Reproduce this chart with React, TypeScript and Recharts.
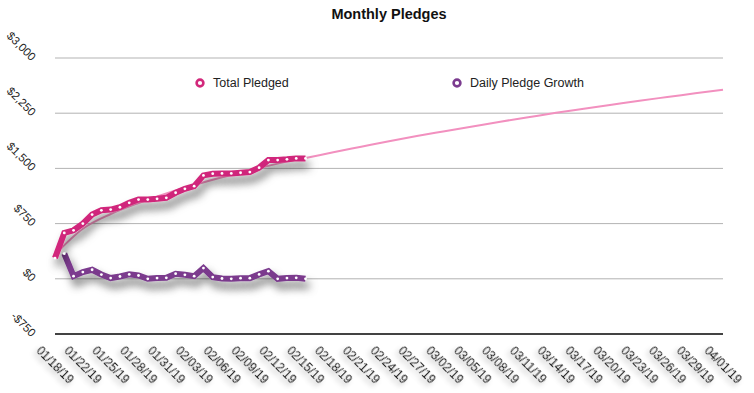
import React from 'react';
import { LineChart, Line, XAxis, YAxis, CartesianGrid } from 'recharts';

// one category per plotted day, label shown on every third one
const dates = [
  '01/18/19', '01/20/19', '01/21/19', '01/22/19', '01/23/19', '01/24/19', '01/25/19', '01/26/19',
  '01/27/19', '01/28/19', '01/29/19', '01/30/19', '01/31/19', '02/01/19', '02/02/19', '02/03/19',
  '02/04/19', '02/05/19', '02/06/19', '02/07/19', '02/08/19', '02/09/19', '02/10/19', '02/11/19',
  '02/12/19', '02/13/19', '02/14/19', '02/15/19', '02/16/19', '02/17/19', '02/18/19', '02/19/19',
  '02/20/19', '02/21/19', '02/22/19', '02/23/19', '02/24/19', '02/25/19', '02/26/19', '02/27/19',
  '02/28/19', '03/01/19', '03/02/19', '03/03/19', '03/04/19', '03/05/19', '03/06/19', '03/07/19',
  '03/08/19', '03/09/19', '03/10/19', '03/11/19', '03/12/19', '03/13/19', '03/14/19', '03/15/19',
  '03/16/19', '03/17/19', '03/18/19', '03/19/19', '03/20/19', '03/21/19', '03/22/19', '03/23/19',
  '03/24/19', '03/25/19', '03/26/19', '03/27/19', '03/28/19', '03/29/19', '03/30/19', '03/31/19',
  '04/01/19',
];

const totalPledged = [
  282, 623, 659, 750, 873, 931, 941, 972, 1032, 1077, 1077, 1087, 1100, 1169,
  1223, 1259, 1405, 1428, 1432, 1432, 1441, 1450, 1510, 1613, 1613, 1623, 1636, 1636,
];

const dailyGrowth = [
  null, 341, 36, 91, 123, 58, 10, 31, 60, 45, 0, 10, 13, 69,
  54, 36, 146, 23, 4, 0, 9, 9, 60, 103, 0, 10, 13, 0,
];

// trend line for Total Pledged, read at every labelled date
const trendAtTicks = [
  330, 680, 880, 1030, 1160, 1275, 1380, 1475, 1565, 1640, 1720, 1795, 1870,
  1940, 2005, 2070, 2135, 2195, 2255, 2310, 2365, 2420, 2470, 2520, 2570,
];

const yTicks = [-750, 0, 750, 1500, 2250, 3000];

const PINK = '#d2287b';
const PURPLE = '#7b3b8f';
const TREND = '#f290bf';
const FONT = '"Liberation Sans", Arial, Helvetica, sans-serif';

const data = dates.map((date, i) => ({
  date,
  total: totalPledged[i] ?? null,
  daily: dailyGrowth[i] ?? null,
  trend: i % 3 === 0 ? trendAtTicks[i / 3] : null,
}));

function money(v: number): string {
  return (v < 0 ? '-$' : '$') + Math.abs(v).toLocaleString('en-US');
}

function DateTick({ x, y, payload }: any) {
  return (
    <g transform={`translate(${x},${y + 31})`}>
      <text
        transform="rotate(45)"
        textAnchor="middle"
        dy="0.35em"
        fontSize={12}
        fill="#222"
        filter="url(#textShadow)"
      >
        {payload.value}
      </text>
    </g>
  );
}

function MoneyTick({ x, y, payload }: any) {
  return (
    <g transform={`translate(${x - 24},${y + 3.5})`}>
      <text transform="rotate(45)" textAnchor="end" fontSize={11.5} fill="#222">
        {money(payload.value)}
      </text>
    </g>
  );
}

function LegendItem({ left, color, label }: { left: number; color: string; label: string }) {
  return (
    <div style={{ position: 'absolute', left, top: 75, height: 16, display: 'flex', alignItems: 'center' }}>
      <svg width={12} height={12} style={{ marginRight: 7 }}>
        <circle cx={6} cy={6} r={3.4} fill="#fff" stroke={color} strokeWidth={2.6} />
      </svg>
      <span style={{ fontSize: 12.5, color: '#222' }}>{label}</span>
    </div>
  );
}

export default function App() {
  return (
    <div
      style={{
        position: 'absolute',
        left: 0,
        top: 0,
        width: 754,
        height: 393,
        background: '#fff',
        fontFamily: FONT,
      }}
    >
      <div
        style={{
          position: 'absolute',
          left: 55,
          top: 6,
          width: 668,
          textAlign: 'center',
          fontSize: 14.5,
          fontWeight: 'bold',
          lineHeight: '17px',
          color: '#111',
        }}
      >
        Monthly Pledges
      </div>
      <LineChart
        width={754}
        height={393}
        data={data}
        margin={{ top: 58, right: 31, bottom: 0, left: 0 }}
        style={{ fontFamily: FONT }}
      >
        <defs>
          <filter id="lineShadow" filterUnits="userSpaceOnUse" x={0} y={0} width={754} height={393}>
            <feDropShadow dx={3} dy={7} stdDeviation={4} floodColor="#000" floodOpacity={0.5} />
          </filter>
          <filter id="textShadow" x="-30%" y="-60%" width="160%" height="260%">
            <feDropShadow dx={0} dy={4} stdDeviation={2.5} floodColor="#000" floodOpacity={0.3} />
          </filter>
        </defs>
        <CartesianGrid vertical={false} stroke="#b3b3b3" />
        <XAxis
          dataKey="date"
          interval={2}
          height={59}
          tickLine={false}
          tickSize={0}
          tickMargin={0}
          axisLine={{ stroke: '#111', strokeWidth: 1.5 }}
          tick={<DateTick />}
        />
        <YAxis
          domain={[-750, 3000]}
          ticks={yTicks}
          width={55}
          axisLine={false}
          tickLine={false}
          tickSize={0}
          tickMargin={0}
          tick={<MoneyTick />}
        />
        <Line
          dataKey="trend"
          type="monotone"
          connectNulls
          stroke={TREND}
          strokeWidth={2}
          dot={false}
          isAnimationActive={false}
        />
        <Line
          dataKey="daily"
          type="linear"
          stroke={PURPLE}
          strokeWidth={6}
          filter="url(#lineShadow)"
          dot={{ r: 1.4, fill: '#fff', stroke: 'none' }}
          isAnimationActive={false}
        />
        <Line
          dataKey="total"
          type="linear"
          stroke={PINK}
          strokeWidth={6}
          filter="url(#lineShadow)"
          dot={{ r: 1.4, fill: '#fff', stroke: 'none' }}
          isAnimationActive={false}
        />
      </LineChart>
      <LegendItem left={194} color={PINK} label="Total Pledged" />
      <LegendItem left={451} color={PURPLE} label="Daily Pledge Growth" />
    </div>
  );
}
